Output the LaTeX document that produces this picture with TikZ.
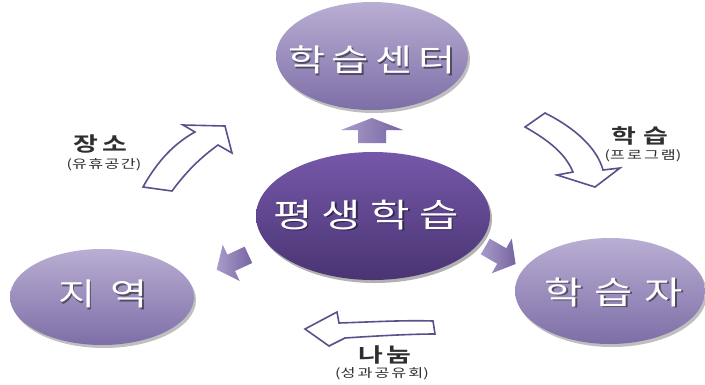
\documentclass[tikz,border=0pt]{standalone}
\usepackage{fontspec}
\usepackage{graphicx}
\setmainfont{Noto Sans CJK KR}[BoldFont={Noto Sans CJK KR Bold}]
\usetikzlibrary{shapes.geometric,shadows}
\definecolor{lpTop}{HTML}{B9AED3}
\definecolor{lpBot}{HTML}{7E6EA7}
\definecolor{dpTop}{HTML}{7558A9}
\definecolor{dpBot}{HTML}{4A3473}
\definecolor{outl}{HTML}{5C4F8C}
\definecolor{saLight}{HTML}{A89CC8}
\definecolor{saDark}{HTML}{7764A3}
\definecolor{lblc}{HTML}{2E2E2E}
\newcommand\widetxt[1]{\scalebox{1.3}[1]{#1}}
\newcommand\widesmall[1]{\scalebox{1.35}[1]{#1}}
\tikzset{
  bubble/.style={ellipse, inner sep=0pt, top color=lpTop, bottom color=lpBot,
    drop shadow={shadow xshift=2pt, shadow yshift=-3pt, opacity=0.25, fill=black}},
  core/.style={ellipse, inner sep=0pt, top color=dpTop, bottom color=dpBot,
    drop shadow={shadow xshift=2pt, shadow yshift=-3pt, opacity=0.3, fill=black}},
  wtext/.style={text=white, inner sep=0pt},
  stext/.style={text=black, opacity=0.45, inner sep=0pt},
  outarrow/.style={draw=outl, line width=1.6pt, fill=white, line join=miter},
  smallarrow/.style={left color=saLight, right color=saDark},
  mainlbl/.style={font=\bfseries\fontsize{20}{22}\selectfont, text=lblc, inner sep=0pt},
  sublbl/.style={font=\fontsize{12}{13}\selectfont, text=lblc, inner sep=0pt}
}
\begin{document}
\begin{tikzpicture}[x=1pt, y=-1pt]
\useasboundingbox (0,0) rectangle (705,384);
\fill[white] (0,0) rectangle (705,384);

% ellipses
\node[bubble, minimum width=192pt, minimum height=108pt] (center) at (372,56) {};
\node[core, minimum width=234pt, minimum height=128pt] (life) at (373,216) {};
\node[bubble, minimum width=184pt, minimum height=96pt] (region) at (102,297) {};
\node[bubble, minimum width=190pt, minimum height=106pt] (learner) at (610,291) {};

% ellipse texts (shadow + white)
\node[stext, font=\fontsize{31}{34}\selectfont] (centerS) at (373.5,61.5) {\widetxt{학\kern5pt 습\kern5pt 센\kern5pt 터}};
\node[wtext, font=\fontsize{31}{34}\selectfont] (centerT) at (372,60) {\widetxt{학\kern5pt 습\kern5pt 센\kern5pt 터}};
\node[stext, font=\fontsize{33}{36}\selectfont] (lifeS) at (367.5,216.5) {\widetxt{평\kern7pt 생\kern7pt 학\kern7pt 습}};
\node[wtext, font=\fontsize{33}{36}\selectfont] (lifeT) at (366,215) {\widetxt{평\kern7pt 생\kern7pt 학\kern7pt 습}};
\node[stext, font=\fontsize{31}{34}\selectfont] (regionS) at (104.5,295.5) {\widetxt{지\kern12pt 역}};
\node[wtext, font=\fontsize{31}{34}\selectfont] (regionT) at (103,294) {\widetxt{지\kern12pt 역}};
\node[stext, font=\fontsize{32}{35}\selectfont] (learnerS) at (615.5,293.5) {\widetxt{학\kern9pt 습\kern9pt 자}};
\node[wtext, font=\fontsize{32}{35}\selectfont] (learnerT) at (614,292) {\widetxt{학\kern9pt 습\kern9pt 자}};

% small block arrows from the core
\begin{scope}[shift={(372,131)}, rotate=90]
  \shade[smallarrow] (-12,-14) -- (1,-14) -- (1,-31) -- (13,0) -- (1,31) -- (1,14) -- (-12,14) -- cycle;
\end{scope}
\begin{scope}[shift={(233,262)}, rotate=205]
  \shade[smallarrow] (-17,-9) -- (2,-9) -- (2,-20) -- (18,0) -- (2,20) -- (2,9) -- (-17,9) -- cycle;
\end{scope}
\begin{scope}[shift={(500,255)}, rotate=-30]
  \shade[smallarrow] (-17,-9) -- (2,-9) -- (2,-20) -- (18,0) -- (2,20) -- (2,9) -- (-17,9) -- cycle;
\end{scope}

% outline curved arrows
\draw[outarrow] (143,187) .. controls (158,160) and (175,143) .. (195,132)
  -- (183,125) -- (225,126) -- (232,153) -- (218,145)
  .. controls (200,158) and (186,172) .. (172,191) -- cycle;
\draw[outarrow] (525,127) -- (545,113) .. controls (575,128) and (597,148) .. (603,170)
  -- (620,168) -- (595,187) -- (557,175) -- (573,172)
  .. controls (565,153) and (548,140) .. (525,127) -- cycle;
\draw[outarrow] (305,329) -- (337,312) -- (339,323)
  .. controls (370,322) and (405,320) .. (433,321) -- (435,334)
  .. controls (410,334) and (375,336) .. (345,338) -- (329,346) -- cycle;

% labels
\node[mainlbl] (placeL) at (100,144) {\widesmall{장\kern3pt 소}};
\node[sublbl] (placeS) at (104,165) {\widesmall{(유\kern1pt 휴\kern1pt 공\kern1pt 간)}};
\node[mainlbl] (learnL) at (640,136) {\widesmall{학\kern5pt 습}};
\node[sublbl] (learnS) at (643,156) {\widesmall{(프\kern1.5pt 로\kern1.5pt 그\kern1.5pt 램)}};
\node[mainlbl] (shareL) at (385,355) {\widesmall{나\kern2pt 눔}};
\node[sublbl] (shareS) at (382,374) {\widesmall{(성\kern1.5pt 과\kern1.5pt 공\kern1.5pt 유\kern1.5pt 회)}};
\end{tikzpicture}
\end{document}
